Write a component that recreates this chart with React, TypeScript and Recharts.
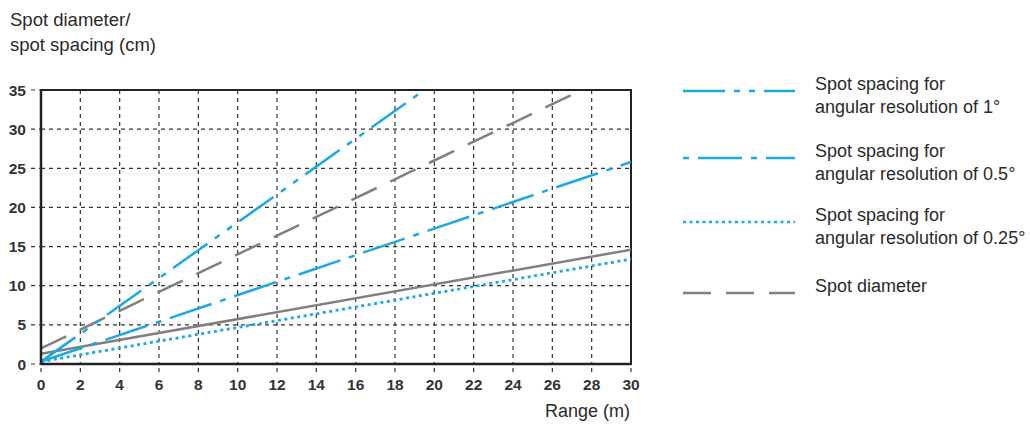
import { LineChart, Line, XAxis, YAxis, CartesianGrid, ReferenceArea } from "recharts";

const xTicks = [0, 2, 4, 6, 8, 10, 12, 14, 16, 18, 20, 22, 24, 26, 28, 30];
const yTicks = [0, 5, 10, 15, 20, 25, 30, 35];

const spacing1 = [
  { x: 0, y: 0.3 },
  { x: 19.5, y: 35 },
];
const spacing05 = [
  { x: 0, y: 0.3 },
  { x: 30, y: 25.8 },
];
const spacing025 = [
  { x: 0, y: 0.3 },
  { x: 30, y: 13.4 },
];
const spotDiameter = [
  { x: 0, y: 2.0 },
  { x: 27.5, y: 35 },
];
const unnamedLine = [
  { x: 0, y: 1.3 },
  { x: 30, y: 14.6 },
];

const legendItems = [
  { lines: ["Spot spacing for", "angular resolution of 1°"], color: "#1BA9E1", dash: "42 9 6 9 6 9", top: 73 },
  { lines: ["Spot spacing for", "angular resolution of 0.5°"], color: "#1BA9E1", dash: "6 9 44 9", top: 140 },
  { lines: ["Spot spacing for", "angular resolution of 0.25°"], color: "#1BA9E1", dash: "3 3.5", top: 204 },
  { lines: ["Spot diameter"], color: "#808080", dash: "28 15", top: 275 },
];

const BLUE = "#1BA9E1";
const GRAY = "#808080";
const FONT = "'Liberation Sans', Arial, sans-serif";

export default function App() {
  const tick = { fontSize: 15.5, fill: "#333", fontWeight: 700, fontFamily: FONT };
  return (
    <div style={{ position: "absolute", left: 0, top: 0, width: 1030, height: 425, background: "#fff", fontFamily: FONT, color: "#2a2a2a" }}>
      <div style={{ position: "absolute", left: 10, top: 7, fontSize: 18.5, lineHeight: "25px" }}>
        Spot diameter/
        <br />
        spot spacing (cm)
      </div>
      <div style={{ position: "absolute", left: 545, top: 401, fontSize: 18 }}>Range (m)</div>

      <div style={{ position: "absolute", left: 0, top: 0 }}>
        <LineChart width={660} height={425} margin={{ top: 90, right: 29, left: 0, bottom: 31 }}>
          <CartesianGrid stroke="#333" strokeDasharray="4 4" strokeWidth={1.2} />
          <XAxis
            type="number"
            dataKey="x"
            domain={[0, 30]}
            ticks={xTicks}
            allowDataOverflow
            tick={tick}
            tickSize={8}
            tickMargin={7}
            tickLine={{ stroke: "#333", strokeDasharray: "4 4", strokeWidth: 1.2 }}
            axisLine={{ stroke: "#222", strokeWidth: 2.5 }}
            height={30}
          />
          <YAxis
            type="number"
            dataKey="y"
            domain={[0, 35]}
            ticks={yTicks}
            allowDataOverflow
            tick={tick}
            tickSize={10}
            tickMargin={5}
            tickLine={{ stroke: "#333", strokeDasharray: "4 4", strokeWidth: 1.2 }}
            axisLine={{ stroke: "#222", strokeWidth: 2.5 }}
            width={41}
          />
          <ReferenceArea x1={0} x2={30} y1={0} y2={35} fill="none" stroke="#222" strokeWidth={2} />
          <Line data={unnamedLine} dataKey="y" stroke={GRAY} strokeWidth={2.5} dot={false} isAnimationActive={false} />
          <Line data={spotDiameter} dataKey="y" stroke={GRAY} strokeWidth={2.5} strokeDasharray="28 15" dot={false} isAnimationActive={false} />
          <Line data={spacing025} dataKey="y" stroke={BLUE} strokeWidth={2.8} strokeDasharray="3 3.5" dot={false} isAnimationActive={false} />
          <Line data={spacing05} dataKey="y" stroke={BLUE} strokeWidth={2.5} strokeDasharray="44 9 6 9" dot={false} isAnimationActive={false} />
          <Line data={spacing1} dataKey="y" stroke={BLUE} strokeWidth={2.5} strokeDasharray="42 9 6 9 6 9" dot={false} isAnimationActive={false} />
        </LineChart>
      </div>

      {legendItems.map((item, i) => (
        <div key={i} style={{ position: "absolute", left: 683, top: item.top }}>
          <svg width={112} height={10} style={{ position: "absolute", left: 0, top: 13 }}>
            <line x1={0} y1={5} x2={112} y2={5} stroke={item.color} strokeWidth={2.5} strokeDasharray={item.dash} />
          </svg>
          <div style={{ position: "absolute", left: 132, top: 0, fontSize: 18, lineHeight: "23px", whiteSpace: "nowrap" }}>
            {item.lines.map((l, j) => (
              <div key={j}>{l}</div>
            ))}
          </div>
        </div>
      ))}
    </div>
  );
}
